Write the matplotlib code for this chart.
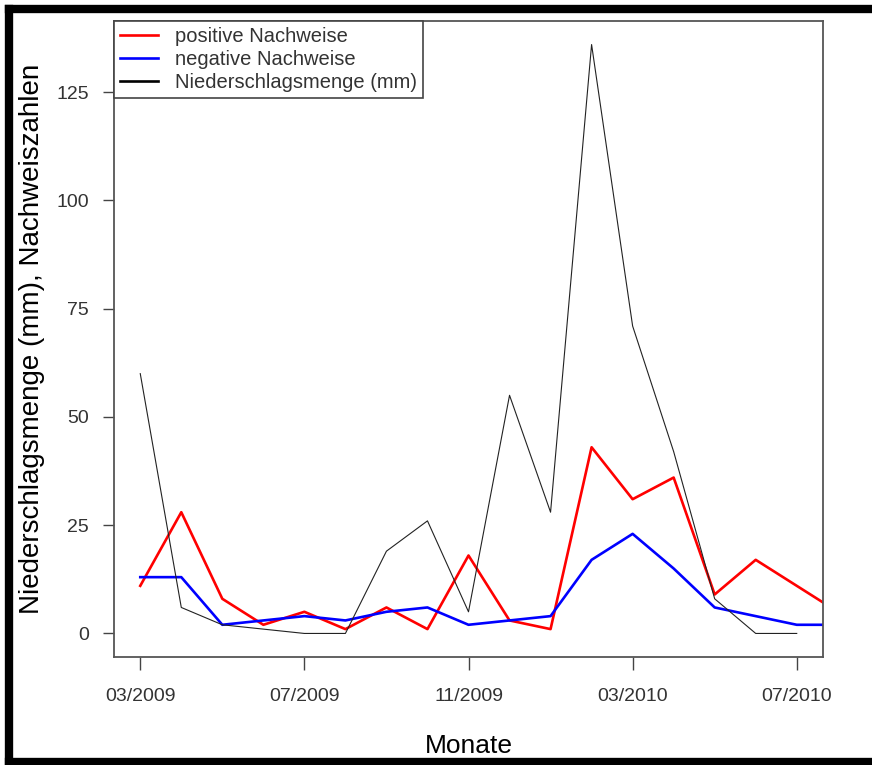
import numpy as np
import matplotlib
matplotlib.use("Agg")
import matplotlib.pyplot as plt
from matplotlib.lines import Line2D

plt.rcParams['font.family'] = ['Liberation Sans', 'DejaVu Sans']

# monthly data, 03/2009 ... (index 0 = 03/2009)
positiv = [11, 28, 8, 2, 5, 1, 6, 1, 18, 3, 1, 43, 31, 36, 9, 17, 11, 5]
negativ = [13, 13, 2, 3, 4, 3, 5, 6, 2, 3, 4, 17, 23, 15, 6, 4, 2, 2]
niederschlag = [60, 6, 2, 1, 0, 0, 19, 26, 5, 55, 28, 136, 71, 42, 8, 0, 0]

tick_pos = [0, 4, 8, 12, 16]
tick_labels = ['03/2009', '07/2009', '11/2009', '03/2010', '07/2010']
y_ticks = [0, 25, 50, 75, 100, 125]

W, H = 872, 765
fig = plt.figure(figsize=(W / 100, H / 100), dpi=100)
ax = fig.add_axes([114 / W, 1 - 657 / H, (823 - 114) / W, (657 - 21) / H])

ax.plot(range(len(positiv)), positiv, color='#ff0000', lw=1.9, label='positive Nachweise')
ax.plot(range(len(negativ)), negativ, color='#0000ff', lw=1.9, label='negative Nachweise')
ax.plot(range(len(niederschlag)), niederschlag, color='#222222', lw=0.8,
        label='Niederschlagsmenge (mm)')

ax.set_xlim(-0.64, 16.64)
ax.set_ylim(-5.44, 141.44)
ax.set_xticks(tick_pos)
ax.set_xticklabels(tick_labels)
ax.set_yticks(y_ticks)

for s in ax.spines.values():
    s.set_color('#555555')
    s.set_linewidth(1.3)
ax.tick_params(axis='both', labelsize=14, labelcolor='#333333', color='#444444',
               width=1.0)
ax.tick_params(axis='x', length=9, pad=13)
ax.tick_params(axis='y', length=8, pad=10)

ax.set_xlabel('Monate', fontsize=19, labelpad=21)
ax.set_ylabel('Niederschlagsmenge (mm), Nachweiszahlen', fontsize=20, labelpad=8)

handles = [Line2D([], [], color='#ff0000', lw=1.9),
           Line2D([], [], color='#0000ff', lw=1.9),
           Line2D([], [], color='#000000', lw=1.9)]
leg = ax.legend(handles, ['positive Nachweise', 'negative Nachweise', 'Niederschlagsmenge (mm)'],
                loc='upper left', bbox_to_anchor=(0, 1), borderaxespad=0,
                fontsize=14.5, frameon=True, fancybox=False, framealpha=1,
                edgecolor='#444444', handlelength=1.9, handletextpad=0.85,
                labelspacing=0.2, borderpad=0.3)
leg.get_frame().set_linewidth(1.2)
for t in leg.get_texts():
    t.set_color('#333333')

# thick black frame round the picture (right side is cut off)
fw = 6
fig.add_artist(Line2D([9 / W, 9 / W], [3 / H, 1 - 9 / H], transform=fig.transFigure,
                      color='black', lw=fw, solid_capstyle='projecting'))
fig.add_artist(Line2D([9 / W, 1.02], [1 - 9 / H, 1 - 9 / H], transform=fig.transFigure,
                      color='black', lw=fw, solid_capstyle='projecting'))
fig.add_artist(Line2D([9 / W, 1.02], [3 / H, 3 / H], transform=fig.transFigure,
                      color='black', lw=fw, solid_capstyle='projecting'))

fig.savefig('out.png', dpi=100)
